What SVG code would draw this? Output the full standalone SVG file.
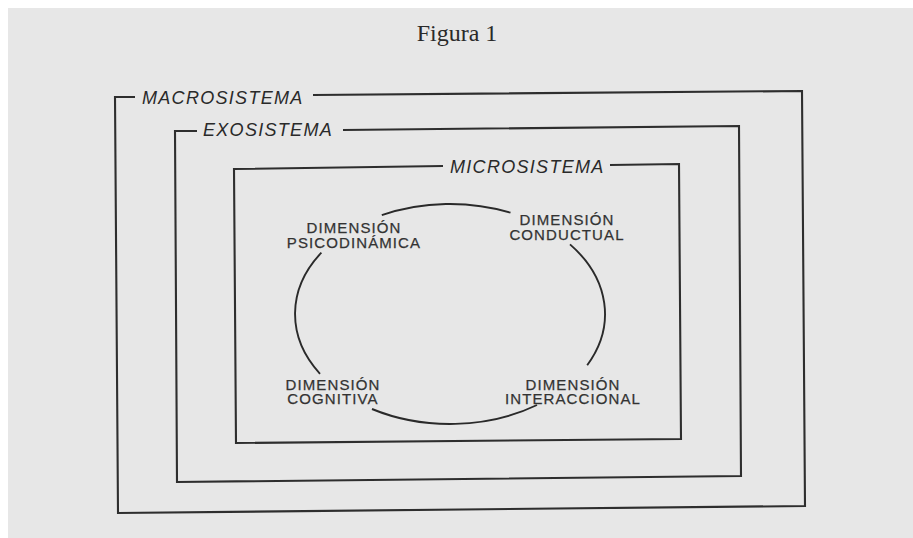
<svg xmlns="http://www.w3.org/2000/svg" width="913" height="538" viewBox="0 0 913 538">
<style>
.frame{fill:none;stroke:#2e2e2e;stroke-width:2.1;stroke-linejoin:miter}
.arc{fill:none;stroke:#2a2a2a;stroke-width:1.9}
.sys{font-family:"Liberation Sans",Arial,sans-serif;font-style:italic;font-size:18px;letter-spacing:1.3px;fill:#2a2a2a}
.dim{font-family:"Liberation Sans",Arial,sans-serif;font-size:15px;letter-spacing:1.1px;fill:#333333;stroke:#333333;stroke-width:0.25;text-anchor:middle}
.title{font-family:"Liberation Serif","Times New Roman",serif;font-size:24px;fill:#2a2a2a;text-anchor:middle}
</style>
<rect x="0" y="0" width="913" height="538" fill="#ffffff"/>
<rect x="8" y="8" width="905" height="530" fill="#e7e7e7"/>
<text class="title" x="457" y="41">Figura 1</text>
<g id="macrosistema">
<path class="frame" d="M135 97 L115 97 L118 513 L805 506 L802 91 L313 95"/>
<text class="sys" x="142" y="104">MACROSISTEMA</text>
</g>
<g id="exosistema">
<path class="frame" d="M197 131 L175 131 L177 482 L741 476 L739 126 L343 130"/>
<text class="sys" x="203" y="136">EXOSISTEMA</text>
</g>
<g id="microsistema">
<path class="frame" d="M443 166 L234 169 L236 443 L681 439 L679 164 L610 165"/>
<text class="sys" x="450" y="172.5">MICROSISTEMA</text>
</g>
<g id="psicodinamica">
<text class="dim" x="354" y="233">DIMENSIÓN</text>
<text class="dim" x="354" y="248">PSICODINÁMICA</text>
</g>
<g id="conductual">
<text class="dim" x="567" y="224.5">DIMENSIÓN</text>
<text class="dim" x="567" y="240">CONDUCTUAL</text>
</g>
<g id="cognitiva">
<text class="dim" x="333" y="389.5">DIMENSIÓN</text>
<text class="dim" x="333" y="404">COGNITIVA</text>
</g>
<g id="interaccional">
<text class="dim" x="573" y="389.5">DIMENSIÓN</text>
<text class="dim" x="573" y="403.5">INTERACCIONAL</text>
</g>
<g id="connectors">
<path class="arc" d="M381.8 215.2 A155 110 0 0 1 510.5 212.7"/>
<path class="arc" d="M570 244.4 A155 110 0 0 1 587.2 365.2"/>
<path class="arc" d="M537 405 A155 110 0 0 1 372 409"/>
<path class="arc" d="M320 373.8 A155 110 0 0 1 321.4 252.6"/>
</g>
</svg>
